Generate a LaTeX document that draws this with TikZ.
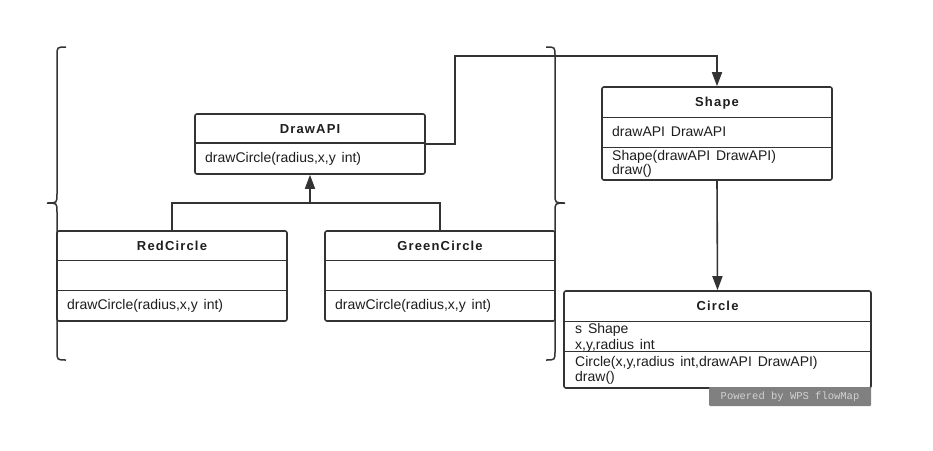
\documentclass[tikz,border=0pt]{standalone}
\usepackage{fontspec}
\setmainfont{Liberation Sans}
\newfontfamily\memberfont[WordSpace=1.5]{Liberation Sans}
\newfontfamily\markfont{Liberation Mono}
\usetikzlibrary{arrows.meta}
\definecolor{umlline}{HTML}{333333}
\definecolor{umltext}{HTML}{1E1E1E}
\definecolor{markgray}{HTML}{808080}
\definecolor{marktext}{HTML}{D2D2D2}
\tikzset{
  classbox/.style={draw=umlline, line width=1.6pt, rounded corners=2pt, inner sep=0pt},
  part/.style={draw=umlline, line width=1.3pt},
  title/.style={anchor=base, inner sep=0pt, text=umltext,
    font=\fontsize{13}{15}\selectfont\bfseries\addfontfeature{LetterSpace=9}},
  member/.style={anchor=base west, inner sep=0pt, text=umltext,
    font=\memberfont\fontsize{14}{16}\selectfont},
  link/.style={draw=umlline, line width=1.6pt},
  tri/.style={-{Triangle[length=14pt,width=10pt]}},
  brace/.style={draw=umlline, line width=1.5pt}
}
\begin{document}
\begin{tikzpicture}[x=1pt,y=-1pt]
    \fill [white] (0,0) rectangle (933,450) ;
    \useasboundingbox (0,0) rectangle (933,450) ;
    \draw [brace] (66,47) .. controls (57,47) .. (57,56) -- (57,194) .. controls (57,203) .. (47,203)
                  .. controls (57,203) .. (57,212) -- (57,351) .. controls (57,360) .. (66,360) ;
    \draw [brace] (546,47) .. controls (555,47) .. (555,56) -- (555,194) .. controls (555,203) .. (565,203)
                  .. controls (555,203) .. (555,212) -- (555,351) .. controls (555,360) .. (546,360) ;
    \node [classbox, minimum width=230pt, minimum height=60pt] (drawapi) at (310,144) {} ;
    \draw [part] (195,143) -- (425,143) ;
    \node [title] (drawapiname) at (310,133) {DrawAPI} ;
    \node [member] (drawapiop) at (205,162) {drawCircle(radius,x,y int)} ;
    \node [classbox, minimum width=230pt, minimum height=90pt] (redcircle) at (172,276) {} ;
    \draw [part] (57,260.5) -- (287,260.5) ;
    \draw [part] (57,290.5) -- (287,290.5) ;
    \node [title] (redcirclename) at (172,250) {RedCircle} ;
    \node [member] (redcircleop) at (67,309) {drawCircle(radius,x,y int)} ;
    \node [classbox, minimum width=230pt, minimum height=90pt] (greencircle) at (440,276) {} ;
    \draw [part] (325,260.5) -- (555,260.5) ;
    \draw [part] (325,290.5) -- (555,290.5) ;
    \node [title] (greencirclename) at (440,250) {GreenCircle} ;
    \node [member] (greencircleop) at (335,309) {drawCircle(radius,x,y int)} ;
    \node [classbox, minimum width=230pt, minimum height=93pt] (shape) at (717,133.5) {} ;
    \draw [part] (602,117.7) -- (832,117.7) ;
    \draw [part] (602,147.7) -- (832,147.7) ;
    \node [title] (shapename) at (717,106.7) {Shape} ;
    \node [member] (shapeattr) at (612,136.7) {drawAPI DrawAPI} ;
    \node [member] (shapeop) at (612,160) {Shape(drawAPI DrawAPI)} ;
    \node [member] (shapedraw) at (612,174) {draw()} ;
    \node [classbox, minimum width=307pt, minimum height=97pt] (circle) at (717.5,339.5) {} ;
    \draw [part] (564,321.7) -- (871,321.7) ;
    \draw [part] (564,351.7) -- (871,351.7) ;
    \node [title] (circlename) at (717.5,310.5) {Circle} ;
    \node [member] (circleattr) at (575,333) {s Shape} ;
    \node [member] (circlexy) at (575,349) {x,y,radius int} ;
    \node [member] (circleop) at (575,366.5) {Circle(x,y,radius int,drawAPI DrawAPI)} ;
    \node [member] (circledraw) at (575,381.5) {draw()} ;
    \coordinate (turn) at (455,56) ;
    \coordinate (join) at (310,203) ;
    \draw [link, tri] (drawapi.east) -| (turn) -| (shape.north) ;
    \draw [link] (redcircle.north) |- (join) -| (greencircle.north) ;
    \draw [link, tri] (join) -- (drawapi.south) ;
    \draw [link, tri] (shape.south) -- (circle.north) ;
    \node [fill=markgray, minimum width=162pt, minimum height=19pt, inner sep=0pt, rounded corners=1pt,
           text=marktext, font=\markfont\fontsize{10.5}{12}\selectfont] (mark) at (790,396.5) {Powered by WPS flowMap} ;
\end{tikzpicture}
\end{document}
